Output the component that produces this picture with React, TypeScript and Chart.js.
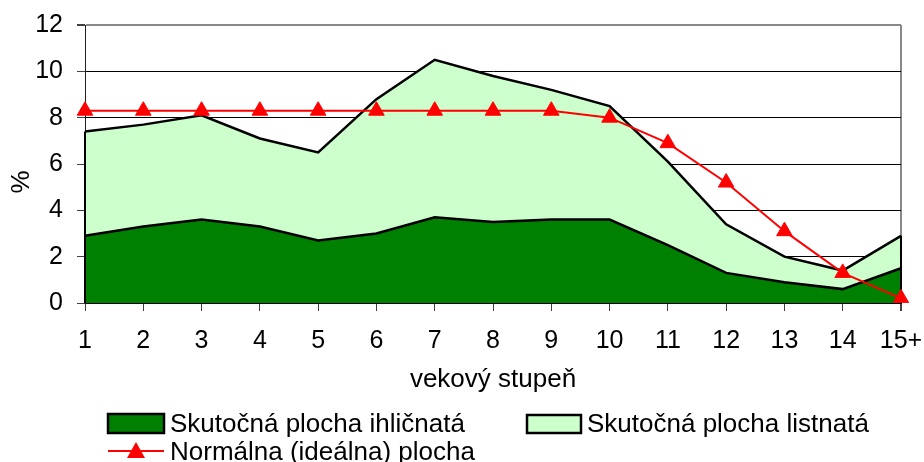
import React, { useEffect, useRef } from 'react';
import { Chart, registerables } from 'chart.js';

Chart.register(...registerables);

const categories = ['1', '2', '3', '4', '5', '6', '7', '8', '9', '10', '11', '12', '13', '14', '15+'];
const ihlicnata = [2.9, 3.3, 3.6, 3.3, 2.7, 3.0, 3.7, 3.5, 3.6, 3.6, 2.5, 1.3, 0.9, 0.6, 1.5];
const listnata = [4.5, 4.4, 4.5, 3.8, 3.8, 5.8, 6.8, 6.3, 5.6, 4.9, 3.6, 2.1, 1.1, 0.8, 1.4];
const normalna = [8.3, 8.3, 8.3, 8.3, 8.3, 8.3, 8.3, 8.3, 8.3, 8.0, 6.9, 5.2, 3.1, 1.3, 0.2];
const yMin = 0;
const yMax = 12;
const yStep = 2;
const xTitle = 'vekový stupeň';
const yTitle = '%';

const FONT = "'Liberation Sans', Arial, sans-serif";
const DARK = '#008000';
const LIGHT = '#CCFFCC';
const RED = '#FF0000';

const extrasPlugin = {
  id: 'extras',
  afterDatasetDraw(chart: any, args: any) {
    if (args.index !== 1) return;
    const ctx = chart.ctx;
    const top = chart.getDatasetMeta(2).data;
    const y0 = chart.scales.y.getPixelForValue(0);
    const last = top.length - 1;
    ctx.save();
    ctx.strokeStyle = '#000';
    ctx.lineWidth = 2;
    [0, last].forEach((i) => {
      ctx.beginPath();
      ctx.moveTo(top[i].x, y0);
      ctx.lineTo(top[i].x, top[i].y);
      ctx.stroke();
    });
    ctx.restore();
  },
  afterDraw(chart: any) {
    const ctx = chart.ctx;
    const ds = chart.data.datasets;
    ctx.save();
    ctx.fillStyle = '#000';
    ctx.font = `26px ${FONT}`;
    ctx.textAlign = 'center';
    ctx.textBaseline = 'middle';
    ctx.translate(22, 182);
    ctx.rotate(-Math.PI / 2);
    ctx.fillText(yTitle, 0, 0);
    ctx.restore();

    ctx.save();
    ctx.font = `26px ${FONT}`;
    ctx.textAlign = 'left';
    ctx.textBaseline = 'alphabetic';
    const boxes = [
      { d: ds[1], x: 108, y: 414, w: 56, h: 19, tx: 170, ty: 432 },
      { d: ds[2], x: 527, y: 415, w: 54, h: 18, tx: 587, ty: 432 },
    ];
    boxes.forEach((b) => {
      ctx.fillStyle = b.d.backgroundColor;
      ctx.fillRect(b.x, b.y, b.w, b.h);
      ctx.strokeStyle = '#000';
      ctx.lineWidth = 2.5;
      ctx.strokeRect(b.x, b.y, b.w, b.h);
      ctx.fillStyle = '#000';
      ctx.fillText(b.d.label, b.tx, b.ty);
    });
    ctx.strokeStyle = ds[0].borderColor;
    ctx.lineWidth = 2;
    ctx.beginPath();
    ctx.moveTo(108, 451);
    ctx.lineTo(164, 451);
    ctx.stroke();
    ctx.fillStyle = ds[0].borderColor;
    ctx.beginPath();
    ctx.moveTo(136, 442);
    ctx.lineTo(145, 458);
    ctx.lineTo(127, 458);
    ctx.closePath();
    ctx.fill();
    ctx.fillStyle = '#000';
    ctx.fillText(ds[0].label, 170, 460);
    ctx.restore();
  },
};

export default function App() {
  const ref = useRef<HTMLCanvasElement | null>(null);

  useEffect(() => {
    if (!ref.current) return;
    const chart = new Chart(ref.current, {
      type: 'line',
      data: {
        labels: categories,
        datasets: [
          {
            label: 'Normálna (ideálna) plocha',
            data: normalna,
            borderColor: RED,
            backgroundColor: RED,
            borderWidth: 2,
            pointStyle: 'triangle',
            pointRadius: 9,
            pointBorderWidth: 1,
            pointBackgroundColor: RED,
            pointBorderColor: RED,
            tension: 0,
            fill: false,
            stack: 'ideal',
            order: 0,
          },
          {
            label: 'Skutočná plocha ihličnatá',
            data: ihlicnata,
            borderColor: '#000',
            backgroundColor: DARK,
            borderWidth: 2.5,
            pointRadius: 0,
            tension: 0,
            fill: 'origin',
            stack: 'area',
            order: 1,
          },
          {
            label: 'Skutočná plocha listnatá',
            data: listnata,
            borderColor: '#000',
            backgroundColor: LIGHT,
            borderWidth: 2.5,
            pointRadius: 0,
            tension: 0,
            fill: '-1',
            stack: 'area',
            order: 2,
          },
        ],
      },
      options: {
        animation: false,
        responsive: false,
        devicePixelRatio: 1,
        layout: { padding: { left: 0, right: 23, top: 25, bottom: 59 } },
        plugins: {
          legend: { display: false },
          tooltip: { enabled: false },
          title: { display: false },
        },
        scales: {
          x: {
            type: 'category',
            offset: false,
            afterFit: (scale: any) => {
              scale.height = 100;
              scale.paddingLeft = 0;
              scale.paddingRight = 0;
            },
            grid: {
              display: true,
              drawOnChartArea: true,
              drawTicks: true,
              tickLength: 8,
              tickColor: '#404040',
              color: (c: any) => (c.index === categories.length - 1 ? '#888888' : 'rgba(0,0,0,0)'),
              lineWidth: (c: any) => (c.index === categories.length - 1 ? 2 : 1),
            },
            border: { display: true, color: '#000', width: 1 },
            ticks: {
              color: '#000',
              font: { family: FONT, size: 25 },
              padding: 15,
              maxRotation: 0,
              autoSkip: false,
            },
            title: {
              display: true,
              text: xTitle,
              color: '#000',
              font: { family: FONT, size: 26 },
              padding: { top: 0, bottom: 8 },
            },
          },
          y: {
            stacked: true,
            min: yMin,
            max: yMax,
            afterFit: (scale: any) => {
              scale.width = 85;
              scale.paddingTop = 0;
              scale.paddingBottom = 0;
            },
            grid: {
              display: true,
              drawTicks: true,
              tickLength: 8,
              tickColor: '#404040',
              color: (c: any) => (c.tick && c.tick.value === yMax ? '#888888' : '#000'),
              lineWidth: (c: any) => (c.tick && c.tick.value === yMax ? 2 : 1),
            },
            border: { display: true, color: '#202020', width: 1 },
            ticks: {
              stepSize: yStep,
              color: '#000',
              font: { family: FONT, size: 25 },
              padding: 14,
            },
          },
        },
      },
      plugins: [extrasPlugin],
    });
    return () => chart.destroy();
  }, []);

  return (
    <div style={{ position: 'fixed', left: 0, top: 0, width: 924, height: 462, background: '#fff' }}>
      <canvas ref={ref} width={924} height={462} />
    </div>
  );
}
